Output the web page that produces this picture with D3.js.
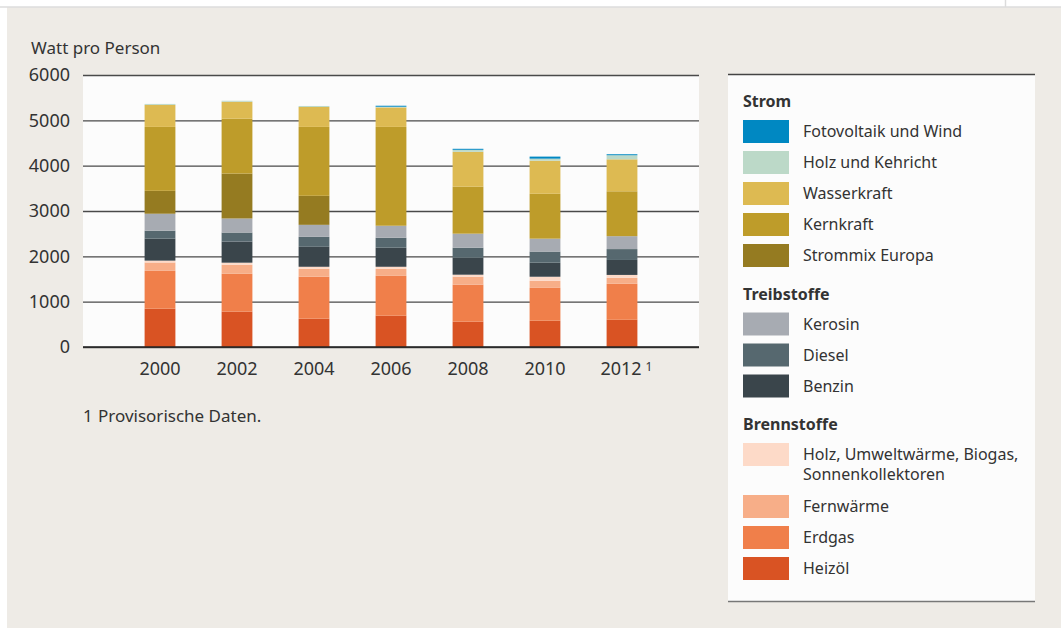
<!DOCTYPE html>
<html>
<head>
<meta charset="utf-8">
<script src="https://cdn.jsdelivr.net/npm/d3@7"></script>
<style>
body{margin:0;background:#fff;}
text{font-family:"Noto Sans",sans-serif;fill:#333;}
.axis .domain{display:none;}
</style>
</head>
<body>
<div id="chart"></div>
<script>
// data (Watt pro Person)
var years = ["2000","2002","2004","2006","2008","2010","2012"];
var heizoel      = [845, 780, 625, 690, 560, 580, 600];
var erdgas       = [835, 835, 925, 880, 815, 725, 795];
var fernwaerme   = [185, 200, 175, 155, 175, 155, 130];
var holzBrenn    = [40, 45, 45, 45, 45, 90, 65];
var benzin       = [485, 465, 440, 420, 375, 310, 330];
var diesel       = [175, 200, 220, 220, 220, 245, 240];
var kerosin      = [375, 310, 265, 265, 310, 285, 285];
var strommix     = [505, 990, 640, 0, 0, 0, 0];
var kernkraft    = [1410, 1210, 1520, 2180, 1035, 990, 990];
var wasserkraft  = [485, 375, 440, 430, 770, 730, 705];
var holzKehricht = [22, 22, 22, 15, 45, 45, 90];
var fotovoltaik  = [0, 0, 0, 22, 22, 45, 22];
var yTicks = [0, 1000, 2000, 3000, 4000, 5000, 6000];

// series, bottom to top
var series = [
    {key: "heizoel", label: "Heizöl", values: heizoel, color: "#d95323"},
    {key: "erdgas", label: "Erdgas", values: erdgas, color: "#f07f4a"},
    {key: "fernwaerme", label: "Fernwärme", values: fernwaerme, color: "#f7ae88"},
    {key: "holzBrenn", label: "Holz, Umweltwärme, Biogas,|Sonnenkollektoren", values: holzBrenn, color: "#fddac8"},
    {key: "benzin", label: "Benzin", values: benzin, color: "#3a454b"},
    {key: "diesel", label: "Diesel", values: diesel, color: "#56686f"},
    {key: "kerosin", label: "Kerosin", values: kerosin, color: "#a7abb2"},
    {key: "strommix", label: "Strommix Europa", values: strommix, color: "#957b21"},
    {key: "kernkraft", label: "Kernkraft", values: kernkraft, color: "#be9c2a"},
    {key: "wasserkraft", label: "Wasserkraft", values: wasserkraft, color: "#ddba52"},
    {key: "holzKehricht", label: "Holz und Kehricht", values: holzKehricht, color: "#bcd9c8"},
    {key: "fotovoltaik", label: "Fotovoltaik und Wind", values: fotovoltaik, color: "#0088c2"}
];
var colorOf = {};
series.forEach(function(s){ colorOf[s.key] = s; });

var legendGroups = [
    {title: "Strom", keys: ["fotovoltaik","holzKehricht","wasserkraft","kernkraft","strommix"]},
    {title: "Treibstoffe", keys: ["kerosin","diesel","benzin"]},
    {title: "Brennstoffe", keys: ["holzBrenn","fernwaerme","erdgas","heizoel"]}
];

var W = 1061, H = 628;
var margin = {t: 75, l: 83, r: 362, b: 281};
var width = W - margin.l - margin.r,
    height = H - margin.t - margin.b;

var svg = d3.select("#chart").append("svg")
    .attr("width", W)
    .attr("height", H);

// page background
svg.append("rect").attr("x", 7).attr("y", 7).attr("width", W - 7).attr("height", H - 7).attr("fill", "#eeebe6");
svg.append("line").attr("x1", 0).attr("x2", W).attr("y1", 7).attr("y2", 7).attr("stroke", "#dcdcdc").attr("stroke-width", 1.5);
svg.append("line").attr("x1", 1005.5).attr("x2", 1005.5).attr("y1", 0).attr("y2", 7).attr("stroke", "#dcdcdc").attr("stroke-width", 1.5);

// table for the stack
var table = years.map(function(y, i){
    var row = {year: y};
    series.forEach(function(s){ row[s.key] = s.values[i]; });
    return row;
});
var stacked = d3.stack().keys(series.map(function(s){ return s.key; }))(table);

var scaleX = d3.scaleBand().domain(years).range([0, width]).paddingInner(0.6).paddingOuter(0.8);
var scaleY = d3.scaleLinear().domain([0, 6000]).range([height, 0]);

var plot = svg.append("g").attr("transform", "translate(" + margin.l + "," + margin.t + ")");

plot.append("rect").attr("x", 0).attr("y", 0).attr("width", width).attr("height", height).attr("fill", "#fcfcfc");

// y axis with gridlines
var axisY = d3.axisLeft().scale(scaleY).tickValues(yTicks).tickFormat(d3.format("d"))
    .tickSizeInner(-width).tickSizeOuter(0).tickPadding(13);
var gY = plot.append("g").attr("class", "axis axis-y").call(axisY);
gY.selectAll(".tick line").attr("stroke", "#4a4a4a").attr("stroke-width", 1.3);
gY.selectAll(".tick text").attr("font-size", 18).attr("fill", "#333").style("font-family", "'Noto Sans',sans-serif");

// bars
plot.append("g").attr("class", "bars")
    .selectAll("g")
    .data(stacked)
    .enter()
    .append("g")
    .attr("fill", function(d){ return colorOf[d.key].color; })
    .selectAll("rect")
    .data(function(d){ return d; })
    .enter()
    .append("rect")
    .attr("x", function(d){ return scaleX(d.data.year); })
    .attr("width", scaleX.bandwidth())
    .attr("y", function(d){ return scaleY(d[1]); })
    .attr("height", function(d){ return scaleY(d[0]) - scaleY(d[1]); });

// baseline
plot.append("line").attr("x1", 0).attr("x2", width).attr("y1", height).attr("y2", height)
    .attr("stroke", "#222").attr("stroke-width", 1.6);

// x axis
var axisX = d3.axisBottom().scale(scaleX).tickSize(0).tickPadding(15);
var gX = plot.append("g").attr("class", "axis axis-x").attr("transform", "translate(0," + height + ")").call(axisX);
gX.selectAll(".tick text").attr("font-size", 18).attr("fill", "#333").style("font-family", "'Noto Sans',sans-serif");
gX.selectAll(".tick text").filter(function(d){ return d === "2012"; })
    .attr("text-anchor", "start").attr("dx", "-1.2em")
    .append("tspan").attr("dx", 4).attr("dy", -4).attr("font-size", 12).text("1");

// axis title
svg.append("text").attr("x", 31).attr("y", 54).attr("font-size", 17).text("Watt pro Person");

// footnote
svg.append("text").attr("x", 83).attr("y", 422).attr("font-size", 17).text("1");
svg.append("text").attr("x", 98).attr("y", 422).attr("font-size", 17).text("Provisorische Daten.");

// legend
var legend = svg.append("g").attr("class", "legend");
var lx = 728, lw = 307, ly = 74.5;
legend.append("rect").attr("x", lx).attr("y", ly).attr("width", lw).attr("height", 602 - ly).attr("fill", "#fcfcfc");
legend.append("line").attr("x1", lx).attr("x2", lx + lw).attr("y1", ly).attr("y2", ly).attr("stroke", "#444").attr("stroke-width", 1.3);
legend.append("line").attr("x1", lx).attr("x2", lx + lw).attr("y1", 601.5).attr("y2", 601.5).attr("stroke", "#777").attr("stroke-width", 1.3);

var cy = 101.5;
legendGroups.forEach(function(g){
    legend.append("text").attr("x", 743).attr("y", cy).attr("dy", "0.35em")
        .attr("font-size", 16).attr("font-weight", "bold").attr("fill", "#222").text(g.title);
    cy += 18.5;
    g.keys.forEach(function(k){
        var s = colorOf[k];
        var lines = s.label.split("|");
        legend.append("rect").attr("x", 743).attr("y", cy).attr("width", 46).attr("height", 23).attr("fill", s.color);
        var t = legend.append("text").attr("x", 803).attr("y", cy + 11.5).attr("font-size", 16);
        lines.forEach(function(l, i){
            t.append("tspan").attr("x", 803).attr("dy", i === 0 ? "0.35em" : 20).text(l);
        });
        cy += 31 + (lines.length - 1) * 21;
    });
    cy += 19;
});
</script>
</body>
</html>
